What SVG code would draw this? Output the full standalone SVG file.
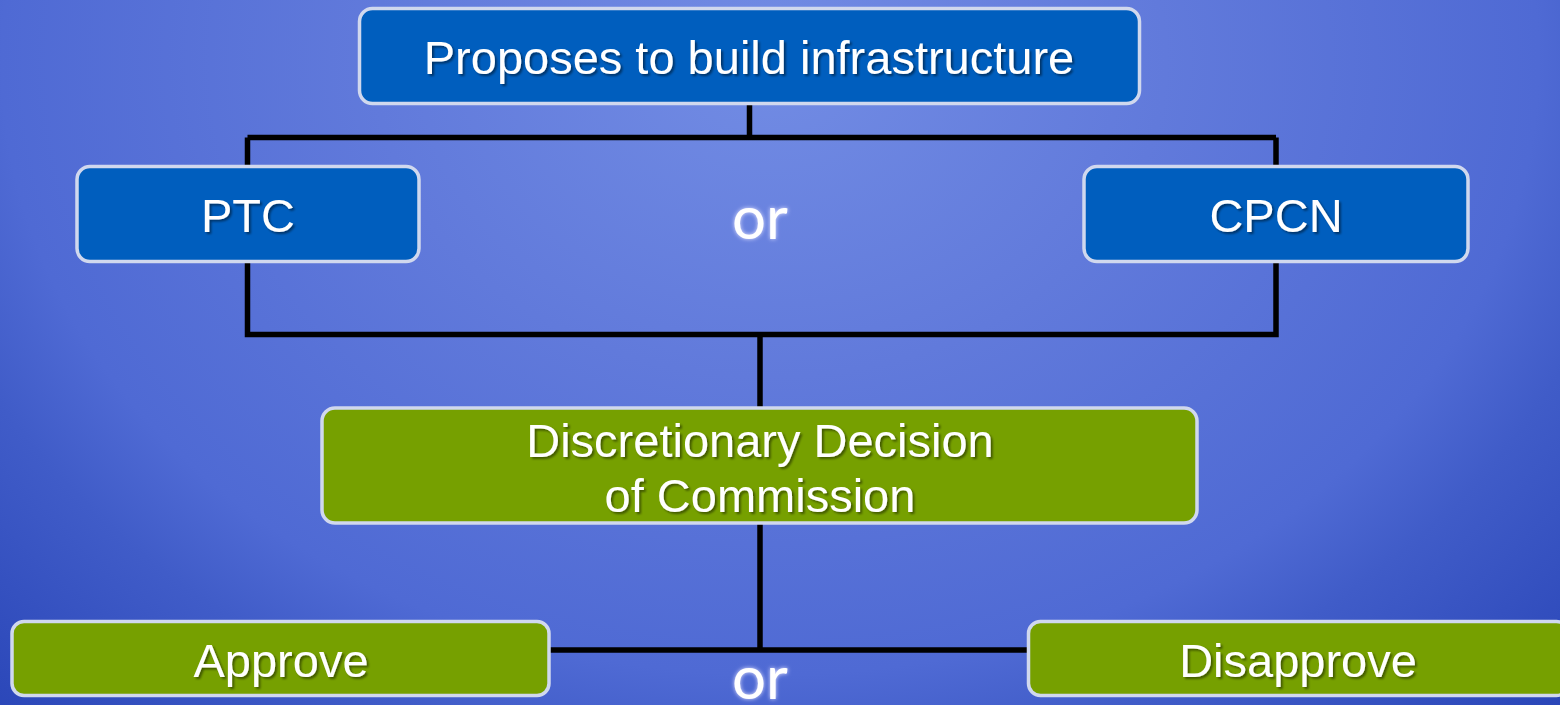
<svg xmlns="http://www.w3.org/2000/svg" width="1560" height="705" viewBox="0 0 1560 705">
<defs>
<radialGradient id="bg" gradientUnits="userSpaceOnUse" cx="770" cy="60" r="1130" gradientTransform="translate(770 60) scale(1 0.8) translate(-770 -60)">
<stop offset="0" stop-color="#728CE4"/>
<stop offset="0.35" stop-color="#617ADB"/>
<stop offset="0.68" stop-color="#4F6AD4"/>
<stop offset="0.78" stop-color="#405CC8"/>
<stop offset="1" stop-color="#2A46B8"/>
</radialGradient>
<filter id="sh" x="-10%" y="-20%" width="120%" height="140%">
<feDropShadow dx="2" dy="2" stdDeviation="1" flood-color="#000" flood-opacity="0.45"/>
</filter>
<filter id="glow" x="-30%" y="-30%" width="160%" height="160%">
<feGaussianBlur in="SourceAlpha" stdDeviation="2" result="b"/>
<feFlood flood-color="#E0E0FF"/>
<feComposite in2="b" operator="in" result="g"/>
<feMerge><feMergeNode in="g"/><feMergeNode in="SourceGraphic"/></feMerge>
</filter>
</defs>
<style>
.box{stroke:#D0D8EE;stroke-width:3.5}
.blue{fill:#005EBE}
.green{fill:#76A000}
.lbl{font-family:"Liberation Sans",Arial,sans-serif;font-size:47px;fill:#fff;text-anchor:middle;filter:url(#sh)}
.or{font-family:Lato,"Open Sans",sans-serif;font-size:60px;fill:#fff;text-anchor:middle;filter:url(#glow)}
.con{fill:none;stroke:#000;stroke-width:5.5}
</style>
<rect width="1560" height="705" fill="url(#bg)"/>
<g id="connectors">
<path class="con" d="M749.5 103 V137.5 M247.5 137.5 H1276 M247.5 137.5 V334.5 H1276 V137.5 M760 334.5 V408 M760 523 V650 M548 650 H1029"/>
</g>
<g id="n-proposes">
<rect class="box blue" x="359.5" y="8.5" width="780" height="95" rx="13"/>
<text class="lbl" x="749" y="74" font-size="48">Proposes to build infrastructure</text>
</g>
<g id="n-ptc">
<rect class="box blue" x="77" y="166.5" width="342" height="95" rx="13"/>
<text class="lbl" x="248" y="232">PTC</text>
</g>
<g id="n-or1">
<text class="or" x="760" y="239">or</text>
</g>
<g id="n-cpcn">
<rect class="box blue" x="1084" y="166.5" width="384" height="95" rx="13"/>
<text class="lbl" x="1276" y="232">CPCN</text>
</g>
<g id="n-decision">
<rect class="box green" x="322" y="408" width="875" height="115" rx="13"/>
<text class="lbl" x="760" y="457" font-size="48">Discretionary Decision</text>
<text class="lbl" x="760" y="512" font-size="48">of Commission</text>
</g>
<g id="n-approve">
<rect class="box green" x="12" y="621.5" width="537" height="74" rx="12"/>
<text class="lbl" x="281" y="677">Approve</text>
</g>
<g id="n-or2">
<text class="or" x="760" y="699">or</text>
</g>
<g id="n-disapprove">
<rect class="box green" x="1028.5" y="621.5" width="540" height="74" rx="12"/>
<text class="lbl" x="1298" y="677">Disapprove</text>
</g>
</svg>
